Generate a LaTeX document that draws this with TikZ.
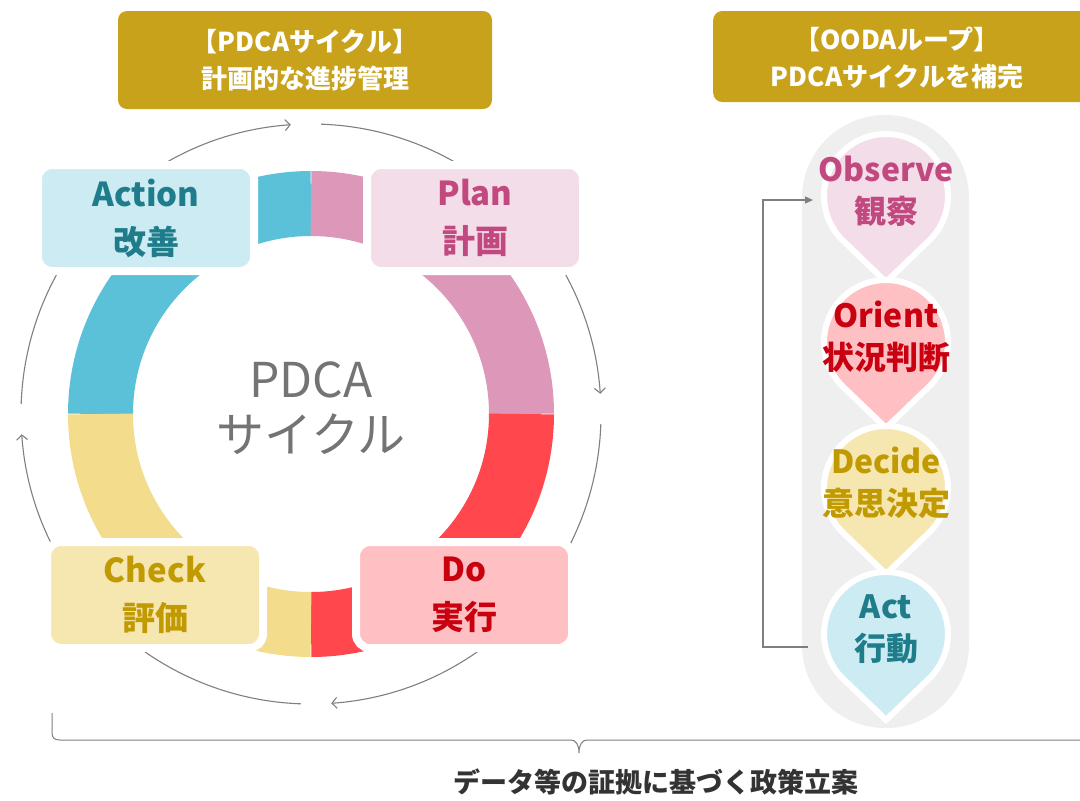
\documentclass[tikz,border=0pt]{standalone}
\usepackage{fontspec}
\setmainfont{Noto Sans CJK JP}
\usetikzlibrary{arrows.meta}

\definecolor{headgold}{HTML}{C8A21A}
\definecolor{ringblue}{HTML}{5BC1D9}
\definecolor{ringpink}{HTML}{DD97B9}
\definecolor{ringred}{HTML}{FF474D}
\definecolor{ringyellow}{HTML}{F3DC8C}
\definecolor{actfill}{HTML}{CCEBF2}
\definecolor{acttext}{HTML}{1F7D8B}
\definecolor{planfill}{HTML}{F3DDE8}
\definecolor{plantext}{HTML}{C2497F}
\definecolor{dofill}{HTML}{FFC0C3}
\definecolor{dotext}{HTML}{C8000F}
\definecolor{checkfill}{HTML}{F6E6B0}
\definecolor{checktext}{HTML}{C09A00}
\definecolor{arcgray}{HTML}{7F7F7F}
\definecolor{centergray}{HTML}{747474}
\definecolor{pillgray}{HTML}{EFEFEF}
\definecolor{policytext}{HTML}{333333}

\begin{document}
\begin{tikzpicture}[x=1pt,y=-1pt,
  headbox/.style={fill=headgold, rounded corners=9pt, minimum height=98pt},
  headtext/.style={text=white, align=center, font=\fontsize{26}{37}\selectfont\bfseries},
  stagebox/.style={draw=white, line width=8pt, rounded corners=14pt, minimum width=216pt, minimum height=106pt, align=center, font=\fontsize{33}{48}\selectfont\bfseries},
  ringband/.style={line width=65pt},
  cyclearc/.style={draw=arcgray, line width=1.1pt, -{Straight Barb[length=5pt,width=11pt]}},
  drop/.style={draw=white, line width=6pt},
  droptext/.style={align=center, font=\fontsize{32}{42}\selectfont\bfseries},
  loopline/.style={draw=arcgray, line width=1.3pt, -{Triangle[length=8pt,width=7pt]}}]
\useasboundingbox (0,0) rectangle (1080,801);

% PDCA ring
\coordinate (ctr) at (311,414);
\draw[ringband, ringblue] (ctr) ++(180:210.5) arc[start angle=180, end angle=270, radius=210.5];
\draw[ringband, ringpink] (ctr) ++(270:210.5) arc[start angle=270, end angle=360, radius=210.5];
\draw[ringband, ringred] (ctr) ++(0:210.5) arc[start angle=0, end angle=90, radius=210.5];
\draw[ringband, ringyellow] (ctr) ++(90:210.5) arc[start angle=90, end angle=180, radius=210.5];
\foreach \q in {-90,0,90,180}
  \draw[cyclearc] (ctr) ++(\q+2:290) arc[start angle=\q+2, end angle=\q+86, radius=290];

\node[stagebox, fill=actfill, text=acttext] (action) at (146,218) {Action\\改善};
\node[stagebox, fill=planfill, text=plantext] (plan) at (475,218) {Plan\\計画};
\node[stagebox, fill=checkfill, text=checktext] (check) at (155,595) {Check\\評価};
\node[stagebox, fill=dofill, text=dotext] (do) at (464,595) {Do\\実行};
\node[text=centergray, align=center, font=\fontsize{48}{55}\selectfont] (ringtitle) at (311,408) {PDCA\\サイクル};

% headers
\node[headbox, headtext, minimum width=374pt] (pdcahead) at (305,60) {【PDCAサイクル】\\計画的な進捗管理};
\node[headbox, minimum width=390pt, minimum height=91pt, anchor=west] (oodabox) at (713,56.5) {};
\node[headtext] (oodahead) at (897,58) {【OODAループ】\\PDCAサイクルを補完};

% OODA loop
\fill[pillgray, rounded corners=83pt] (802,115) rectangle (969,728);
\foreach \yc/\fc/\tc/\nm/\txt in {196/planfill/plantext/observe/{Observe\\観察},
    342/dofill/dotext/orient/{Orient\\状況判断},
    488/checkfill/checktext/decide/{Decide\\意思決定},
    634/actfill/acttext/act/{Act\\行動}} {
  \draw[drop, fill=\fc] (886,\yc) ++(46.1:62) arc[start angle=46.1, end angle=-226.1, radius=62] -- (886,\yc+86) -- cycle;
  \node[droptext, text=\tc] (\nm) at (886,\yc-5) {\txt};
}
\coordinate (actport) at (808,647);
\coordinate (obsport) at (813,200);
\draw[loopline] (actport) -- ++(-45,0) |- (obsport);

% brace and policy line
\draw[arcgray, line width=1pt] (52,713) -- (52,732) .. controls (52,738) and (54,740) .. (60,740) -- (571,740)
  .. controls (576,740) and (579,745) .. (579,753) .. controls (579,745) and (582,740) .. (587,740) -- (1080,740);
\node[text=policytext, font=\fontsize{27}{30}\selectfont\bfseries] (policy) at (656,782) {データ等の証拠に基づく政策立案};
\end{tikzpicture}
\end{document}
